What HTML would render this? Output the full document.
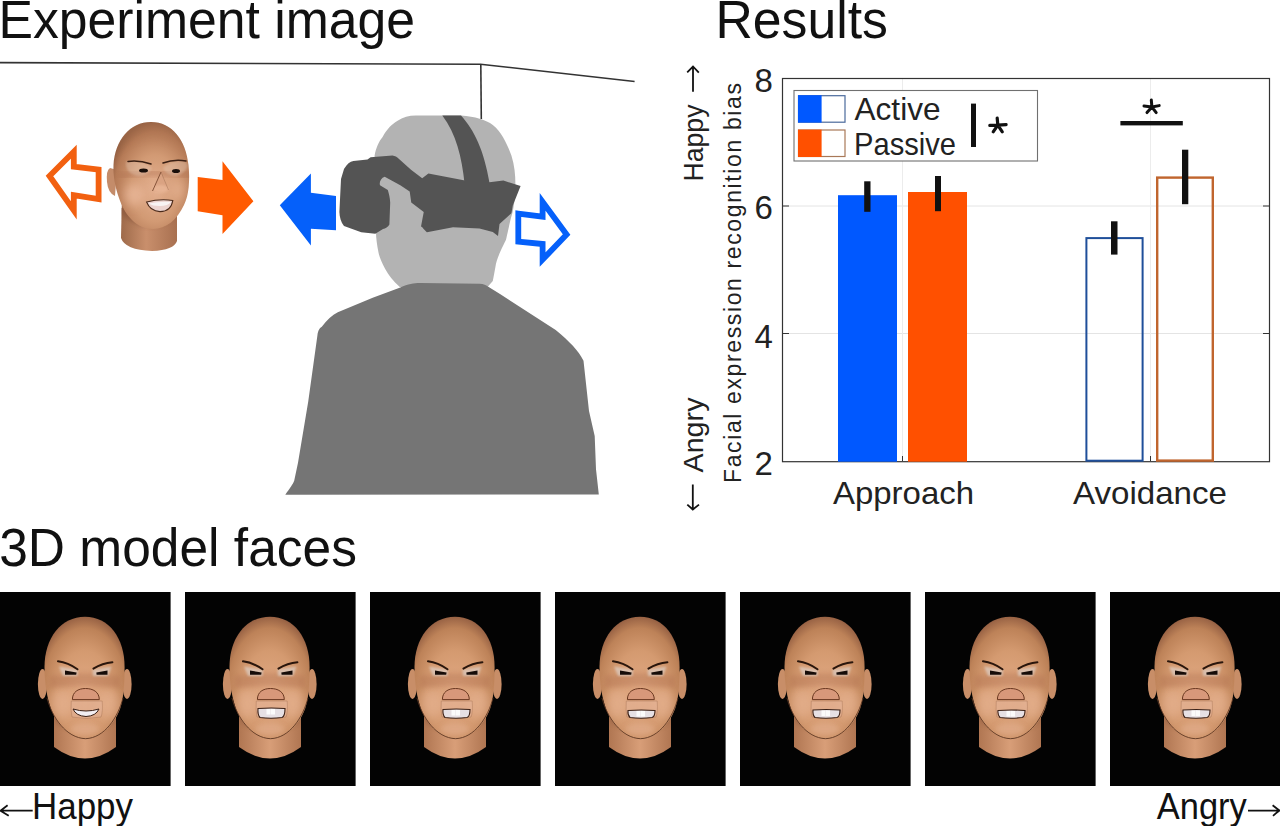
<!DOCTYPE html>
<html><head><meta charset="utf-8">
<style>
html,body{margin:0;padding:0;background:#fff;}
body{width:1280px;height:826px;overflow:hidden;position:relative;}
svg{position:absolute;left:0;top:0;}
text{font-family:"Liberation Sans",sans-serif;}
</style></head><body>
<svg width="1280" height="826" viewBox="0 0 1280 826">
<defs>
<radialGradient id="skin" cx="0.5" cy="0.62" r="0.62">
<stop offset="0" stop-color="#e2aa84"/><stop offset="0.55" stop-color="#d49a70"/><stop offset="0.85" stop-color="#bd8258"/><stop offset="1" stop-color="#986244"/>
</radialGradient>
<clipPath id="hc"><path d="M85,24.7 C109,24.7 124.6,46 124.6,75 C124.6,94 123.5,106 120,117 C113,135 100,146.7 85.5,146.7 C71,146.7 58,135 51,117 C47.5,106 44.5,94 44.5,75 C44.5,46 61,24.7 85,24.7 Z"/></clipPath>
<clipPath id="nc"><path d="M54,112 L54,155 Q85,178 116,155 L116,112 Z"/></clipPath>
<filter id="bl1" x="-50%" y="-50%" width="200%" height="200%"><feGaussianBlur stdDeviation="0.8"/></filter>
<filter id="bl2" x="-50%" y="-50%" width="200%" height="200%"><feGaussianBlur stdDeviation="2.5"/></filter>
<filter id="bl3" x="-50%" y="-50%" width="200%" height="200%"><feGaussianBlur stdDeviation="5"/></filter>
<linearGradient id="neck" x1="0" y1="0" x2="1" y2="0">
<stop offset="0" stop-color="#b07652"/><stop offset="0.5" stop-color="#d89e78"/><stop offset="1" stop-color="#b07652"/>
</linearGradient>
</defs>
<rect width="1280" height="826" fill="#fff"/>
<!-- titles -->
<text x="-1.5" y="37.5" font-size="51.7" fill="#111" transform="translate(0,37.5) scale(1,1.04) translate(0,-37.5)">Experiment image</text>
<text x="715.5" y="37.5" font-size="51.7" fill="#111" transform="translate(0,37.5) scale(1,1.04) translate(0,-37.5)">Results</text>
<text x="-0.8" y="566.4" font-size="51.5" fill="#111" transform="translate(0,566.4) scale(1,1.035) translate(0,-566.4)">3D model faces</text>
<text x="32" y="818.6" font-size="36" fill="#111" textLength="101" lengthAdjust="spacingAndGlyphs">Happy</text>
<text x="1156.8" y="818.6" font-size="36" fill="#111" textLength="90" lengthAdjust="spacingAndGlyphs">Angry</text>
<path d="M0.5,810.7 L32.7,810.7 M7.6,805.3 Q3,808.8 0.5,810.7 Q4,812.8 8.7,815.8" fill="none" stroke="#111" stroke-width="1.8"/>
<path d="M1248,810.6 L1279.5,810.6 M1272.6,805.2 Q1277,808.6 1279.5,810.6 Q1276.5,812.8 1273,815.9" fill="none" stroke="#111" stroke-width="1.8"/>
<!-- room lines -->
<path d="M0,62.6 L480.5,64.2 L634.6,81.5" fill="none" stroke="#333" stroke-width="1.6"/>
<path d="M480.8,64.2 L481.3,119" fill="none" stroke="#333" stroke-width="1.6"/>

<!-- head -->
<path d="M415.8,115.4 L461,115.6 C475,116.5 486,120 492.8,124.9 C502,132 508,146 511.4,155.5 C514.5,165 515.4,175 515.4,184 C515.4,200 513,212 510.8,218.6 C508.5,228 507,236 506,239.8 C504,244 502,248 500.8,250.5 C498,257 496,262 495.5,266.4 C494.5,272 493.5,277 492.8,281 L487.5,287 L399.8,287 C393,281 388.5,275 385.2,269 C381.5,262 379.5,257 378.6,253.1 C377,245 376,238 376,231.9 L374.6,155.5 C376,148 379,141 382.6,136.9 C387,129 392,124 397.2,121 C403,117 409,115.4 415.8,115.4 Z" fill="#b3b3b3"/>
<!-- goggles -->
<path d="M344,168.9 C347,164 350,161.5 353.4,161 L367.5,159.5 L370.6,157.2 L392.5,155.6 C395,156 397,157 398.75,158.75 L411,169.7 L422.2,178.3 L428.4,173.6 L465,180.5 L489.4,182.2 L503.4,180.6 L520.6,186 L512.8,205.6 L511.4,213.3 L499.5,224 L498,235.9 L492.8,231.9 L479.5,228.6 L453,227.2 L426.9,232.2 C424,230 422.5,227 421,226.6 L423.75,211.9 L411.25,202.5 L409.7,191.6 L400.3,185.3 L384.7,176.7 C381,178 379,182 380,185.3 L387.8,190 C389,194 390,198 390.2,202.5 L389.4,224.4 C388,227 385.5,228.5 383,229 L375.3,233.75 L361.25,232.2 L344,226 C341,222 339.5,217 339.4,211.9 L341,179 Z" fill="#545454"/>
<path d="M442.3,115.4 L461,115.6 C474,130 484,150 489.5,183 L464.5,183 C462,158 456,133 442.3,115.4 Z" fill="#545454"/>
<!-- body -->
<path d="M400.3,287.6 C408,284 414,283 419.8,283 L479.5,283.7 C484,284 486,285 487.5,286.3 L500,294 L555.7,330 C570,342 578,350 583.5,360.7 L589,410.9 L594.7,435.9 L596,469.3 L598.8,494.5 L285.3,494.7 C290,488 293,484 294.2,480.7 L298,462.8 L308.2,401.8 L317.4,335.6 C318,330 320,328 321.8,326.8 C327,320 332,315 337.8,312.3 L372.7,297.8 Z" fill="#757575"/>
<!-- arrows -->
<polygon points="279.8,205.2 310.9,173.6 310.9,192.7 336,196 336,230.3 310.9,228.7 310.9,245.6" fill="#0560fa"/>
<polygon points="518.3,213.6 542.6,216.6 542.6,201.8 566.6,234.6 542.6,259.6 542.6,244 518.3,241.6" fill="none" stroke="#0560fa" stroke-width="5.8" stroke-linejoin="miter"/>
<polygon points="197.7,177.1 222.5,180.1 222.5,161.3 253.4,201.3 222.5,234 222.5,215.2 197.7,211.3" fill="#ff5a00"/>
<polygon points="49.5,176 73.8,151.8 73.8,166.7 98.6,169.6 98.6,199.2 73.8,195.2 73.8,210.4" fill="none" stroke="#f26010" stroke-width="5.8" stroke-linejoin="miter"/>

<!-- small face -->
<g id="expface">
<radialGradient id="skin2" cx="0.55" cy="0.62" r="0.62">
<stop offset="0" stop-color="#e4b090"/><stop offset="0.5" stop-color="#d29a74"/><stop offset="0.85" stop-color="#b57a56"/><stop offset="1" stop-color="#946042"/>
</radialGradient>
<linearGradient id="neck2" x1="0" y1="0" x2="1" y2="0">
<stop offset="0" stop-color="#9e6a4a"/><stop offset="0.45" stop-color="#c98f6c"/><stop offset="1" stop-color="#a87050"/>
</linearGradient>
<clipPath id="hc2"><path d="M151,121.9 C172,121.9 186,140 188.5,165 C190,180 189,195 184,205 C177,220 166,229 153,229 C137,229 125,216 119,198 C115,187 113,175 113.5,165 C115,140 130,121.9 151,121.9 Z"/></clipPath>
<path d="M122,195 L121,238 Q125,250 152,251 Q174,250 177,241 L177,195 Z" fill="url(#neck2)"/>
<clipPath id="nc2"><path d="M121,208 L121,238 Q125,250 152,251 Q174,250 177,241 L177,208 Z"/></clipPath><g clip-path="url(#nc2)"><path d="M121,214 Q150,238 177,214 L177,200 L121,200 Z" fill="#7a4a30" opacity="0.5" filter="url(#bl2)"/></g>
<path d="M110,168 Q106,170 107,182 Q108,193 115,196 L117,170 Z" fill="#c48c6a"/>
<path d="M151,121.9 C172,121.9 186,140 188.5,165 C190,180 189,195 184,205 C177,220 166,229 153,229 C137,229 125,216 119,198 C115,187 113,175 113.5,165 C115,140 130,121.9 151,121.9 Z" fill="url(#skin2)"/>
<g clip-path="url(#hc2)">
<path d="M112,150 Q150,120 190,150 L190,120 L112,120 Z" fill="#a87050" opacity="0.35" filter="url(#bl3)"/>
<ellipse cx="134" cy="195" rx="10" ry="11" fill="#f0c0a4" opacity="0.6" filter="url(#bl3)"/>
<ellipse cx="178" cy="190" rx="8" ry="11" fill="#eab89a" opacity="0.5" filter="url(#bl3)"/>
<path d="M120,176 Q150,170 190,176" fill="none" stroke="#a8684a" stroke-width="6" opacity="0.35" filter="url(#bl2)"/>
<path d="M126,162 Q140,158 152,168 Q148,176 138,176 Q128,174 126,166 Z" fill="#e8d0c0" opacity="0.35" filter="url(#bl1)"/>
<path d="M186,162 Q174,158 163,168 Q167,176 176,176 Q184,174 188,166 Z" fill="#e8d0c0" opacity="0.35" filter="url(#bl1)"/>
</g>
<path d="M128,161.5 Q139,160 151,164" fill="none" stroke="#3a2014" stroke-width="1.5" stroke-linecap="round"/>
<path d="M163,163 Q174,159 186,161" fill="none" stroke="#3a2014" stroke-width="1.5" stroke-linecap="round"/>
<ellipse cx="143.5" cy="170.5" rx="4.5" ry="2" fill="#1a0f0a"/>
<ellipse cx="176" cy="171" rx="4" ry="2" fill="#1a0f0a"/>
<path d="M161,172 L152.5,191 Q160,193.5 168,191 Z" fill="#d9a282" opacity="0.9"/>
<ellipse cx="160.5" cy="189" rx="8" ry="4" fill="#eab898" opacity="0.8" filter="url(#bl1)"/>
<path d="M161,172 L152.5,191" fill="none" stroke="#7a4a30" stroke-width="0.9"/>
<path d="M161,172 L168.5,190" fill="none" stroke="#8a5a40" stroke-width="0.6" opacity="0.6"/>
<path d="M146.6,202 Q160,198.5 172.8,200.5 Q171,211.6 160,211.6 Q150,211 146.6,202 Z" fill="#ecd4d0" stroke="#4a2a1a" stroke-width="1.1"/>
<path d="M149,203.5 Q160,201 171,202 Q168,206 160,206 Q152,206 149,203.5 Z" fill="#f8f4f4"/>
</g>

<!-- chart -->
<g id="chart">
<line x1="783" y1="206" x2="1269" y2="206" stroke="#e4e4e4" stroke-width="1"/>
<line x1="783" y1="333.5" x2="1269" y2="333.5" stroke="#e4e4e4" stroke-width="1"/>
<line x1="902.5" y1="79" x2="902.5" y2="461" stroke="#ececec" stroke-width="1"/>
<line x1="1150.5" y1="79" x2="1150.5" y2="461" stroke="#ececec" stroke-width="1"/>
<rect x="782.5" y="78.5" width="487" height="383.2" fill="none" stroke="#333" stroke-width="1.2"/>
<path d="M783,206 h6 M783,333.5 h6 M1269,206 h-6 M1269,333.5 h-6 M902.5,461 v-5 M1150.5,461 v-5" stroke="#333" stroke-width="1"/>
<rect x="838" y="195.2" width="59" height="266.5" fill="#0058ff"/>
<rect x="908" y="192" width="59" height="269.7" fill="#ff5000"/>
<rect x="1086.4" y="238.1" width="56.2" height="222.6" fill="none" stroke="#1f4f9a" stroke-width="2"/>
<rect x="1157.2" y="177.6" width="55.6" height="283" fill="none" stroke="#c0652e" stroke-width="2.4"/>
<rect x="864.2" y="181.3" width="6.3" height="30.5" fill="#111"/>
<rect x="935" y="176" width="6" height="35.2" fill="#111"/>
<rect x="1111" y="221.3" width="6.5" height="33.3" fill="#111"/>
<rect x="1182" y="149.7" width="6.3" height="54.5" fill="#111"/>
<rect x="1120.4" y="121" width="62.4" height="4.4" fill="#111"/>
<path d="M1151.3,100 L1151.9,107 M1144,106 L1151.9,107 L1159.2,105.6 M1147,112.6 L1151.9,107 L1156.2,112.6" fill="none" stroke="#111" stroke-width="3" stroke-linecap="round" stroke-linejoin="round"/>
<!-- legend -->
<rect x="794" y="90.5" width="243.5" height="70.5" fill="#fff" stroke="#707070" stroke-width="1.1"/>
<rect x="798.5" y="95.7" width="46.5" height="26.5" fill="#fff" stroke="#4a6a9c" stroke-width="1.2"/>
<rect x="798" y="95.2" width="23.6" height="27.4" fill="#0058ff"/>
<rect x="798.5" y="130" width="46.5" height="26.5" fill="#fff" stroke="#a87858" stroke-width="1.2"/>
<rect x="798" y="129.6" width="23.6" height="27.4" fill="#ff5000"/>
<text x="854.5" y="120" font-size="32" fill="#222" textLength="86" lengthAdjust="spacingAndGlyphs">Active</text>
<text x="854" y="155" font-size="32" fill="#222" textLength="102" lengthAdjust="spacingAndGlyphs">Passive</text>
<rect x="971" y="103.6" width="5" height="43.4" fill="#111"/>
<path d="M997.2,118.2 L997.8,125.2 M989.8,125.4 L997.8,125.2 L1006.1,124.6 M993.2,131.8 L997.8,125.2 L1002.3,131.8" fill="none" stroke="#111" stroke-width="3.2" stroke-linecap="round" stroke-linejoin="round"/>
<!-- tick labels -->
<text x="763.8" y="92" font-size="33" fill="#222" text-anchor="middle">8</text>
<text x="763.8" y="218.8" font-size="33" fill="#222" text-anchor="middle">6</text>
<text x="763.8" y="348" font-size="33" fill="#222" text-anchor="middle">4</text>
<text x="763.8" y="474.5" font-size="33" fill="#222" text-anchor="middle">2</text>
<text x="833" y="503.8" font-size="32" fill="#222" textLength="141" lengthAdjust="spacingAndGlyphs">Approach</text>
<text x="1073" y="503.8" font-size="32" fill="#222" textLength="154" lengthAdjust="spacingAndGlyphs">Avoidance</text>
<!-- y labels -->
<text transform="translate(703,181.5) rotate(-90)" font-size="27" fill="#222" textLength="77" lengthAdjust="spacingAndGlyphs">Happy</text>
<path d="M693,91.7 L693,66.5 M687.2,72.3 L693,66.5 L698.8,72.6" fill="none" stroke="#111" stroke-width="1.8"/>
<text transform="translate(703,472.5) rotate(-90)" font-size="27" fill="#222" textLength="75" lengthAdjust="spacingAndGlyphs">Angry</text>
<path d="M692.8,484.4 L692.8,509.5 M687.3,504.6 L692.8,509.5 L699,504.6" fill="none" stroke="#111" stroke-width="1.8"/>
<text transform="translate(741,483) rotate(-90)" font-size="23" fill="#222" textLength="400" lengthAdjust="spacing">Facial expression recognition bias</text>
</g>

<!-- face panels -->
<rect x="0" y="592" width="170.6" height="194" fill="#030303"/><g transform="translate(0,592)"><path d="M54,112 L54,155 Q85,178 116,155 L116,112 Z" fill="url(#neck)"/><g clip-path="url(#nc)"><path d="M56,130 Q85,150 114,130 L114,110 L56,110 Z" fill="#7a4a30" opacity="0.45" filter="url(#bl2)"/></g><ellipse cx="42.5" cy="92" rx="4.6" ry="15" fill="#c88e68"/><ellipse cx="127" cy="92" rx="4.6" ry="15" fill="#c88e68"/><path d="M85,24.7 C109,24.7 124.6,46 124.6,75 C124.6,94 123.5,106 120,117 C113,135 100,146.7 85.5,146.7 C71,146.7 58,135 51,117 C47.5,106 44.5,94 44.5,75 C44.5,46 61,24.7 85,24.7 Z" fill="url(#skin)"/><g clip-path="url(#hc)"><ellipse cx="62" cy="112" rx="11" ry="14" fill="#e9b798" opacity="0.55" filter="url(#bl3)"/><ellipse cx="108" cy="112" rx="11" ry="14" fill="#e9b798" opacity="0.55" filter="url(#bl3)"/><path d="M50,84 Q85,78 120,84 L120,96 Q85,92 50,96 Z" fill="#a8684a" opacity="0.35" filter="url(#bl2)"/><ellipse cx="85" cy="137" rx="14" ry="6" fill="#e2ae8e" opacity="0.6" filter="url(#bl2)"/></g><path d="M47,106 C52,125 66,146 85.5,146.7 C105,146 118,125 123,106" fill="none" stroke="#5e3824" stroke-width="0.9"/><path d="M59,74.5 L78,77.5 L77.5,84 L63,84 Z" fill="#dccfc6" opacity="0.7" filter="url(#bl1)"/><path d="M111.5,74.5 L92.5,77.5 L93,84 L108,84 Z" fill="#dccfc6" opacity="0.7" filter="url(#bl1)"/><path d="M58,69.3 Q68,70.5 77.5,77.3" fill="none" stroke="#2a160c" stroke-width="2" stroke-linecap="round"/><path d="M112.4,70.3 Q102.5,71 93.4,76.6" fill="none" stroke="#2a160c" stroke-width="2" stroke-linecap="round"/><path d="M65,78.6 L76.6,80.4 L76.2,82.8 L65,82.8 Z" fill="#160c08"/><path d="M107.5,78.6 L96.3,80.4 L96.6,82.8 L107.5,82.8 Z" fill="#160c08"/><path d="M72.4,107.6 C72.4,100 78,96.5 85.5,96.5 C93,96.5 99.3,100 99.3,107.6 Z" fill="#d8987a" stroke="#6a3820" stroke-width="1"/><path d="M71.3,109 L102.2,109 Q103,120 101,125 Q86,128 72,125 Q70.5,118 71.3,109 Z" fill="#e6b69c" opacity="0.5" stroke="#6a3a24" stroke-width="0.6" stroke-opacity="0.7"/><path d="M73,117 Q86,121 99,117 Q96,124 86,124.5 Q76,124 73,117 Z" fill="#f2eef2" stroke="#3a2016" stroke-width="1"/></g><rect x="185" y="592" width="170.6" height="194" fill="#030303"/><g transform="translate(185,592)"><path d="M54,112 L54,155 Q85,178 116,155 L116,112 Z" fill="url(#neck)"/><g clip-path="url(#nc)"><path d="M56,130 Q85,150 114,130 L114,110 L56,110 Z" fill="#7a4a30" opacity="0.45" filter="url(#bl2)"/></g><ellipse cx="42.5" cy="92" rx="4.6" ry="15" fill="#c88e68"/><ellipse cx="127" cy="92" rx="4.6" ry="15" fill="#c88e68"/><path d="M85,24.7 C109,24.7 124.6,46 124.6,75 C124.6,94 123.5,106 120,117 C113,135 100,146.7 85.5,146.7 C71,146.7 58,135 51,117 C47.5,106 44.5,94 44.5,75 C44.5,46 61,24.7 85,24.7 Z" fill="url(#skin)"/><g clip-path="url(#hc)"><ellipse cx="62" cy="112" rx="11" ry="14" fill="#e9b798" opacity="0.55" filter="url(#bl3)"/><ellipse cx="108" cy="112" rx="11" ry="14" fill="#e9b798" opacity="0.55" filter="url(#bl3)"/><path d="M50,84 Q85,78 120,84 L120,96 Q85,92 50,96 Z" fill="#a8684a" opacity="0.35" filter="url(#bl2)"/><ellipse cx="85" cy="137" rx="14" ry="6" fill="#e2ae8e" opacity="0.6" filter="url(#bl2)"/></g><path d="M47,106 C52,125 66,146 85.5,146.7 C105,146 118,125 123,106" fill="none" stroke="#5e3824" stroke-width="0.9"/><path d="M59,74.5 L78,77.5 L77.5,84 L63,84 Z" fill="#dccfc6" opacity="0.7" filter="url(#bl1)"/><path d="M111.5,74.5 L92.5,77.5 L93,84 L108,84 Z" fill="#dccfc6" opacity="0.7" filter="url(#bl1)"/><path d="M58,69.3 Q68,70.5 77.5,77.3" fill="none" stroke="#2a160c" stroke-width="2" stroke-linecap="round"/><path d="M112.4,70.3 Q102.5,71 93.4,76.6" fill="none" stroke="#2a160c" stroke-width="2" stroke-linecap="round"/><path d="M65,78.6 L76.6,80.4 L76.2,82.8 L65,82.8 Z" fill="#160c08"/><path d="M107.5,78.6 L96.3,80.4 L96.6,82.8 L107.5,82.8 Z" fill="#160c08"/><path d="M72.4,107.6 C72.4,100 78,96.5 85.5,96.5 C93,96.5 99.3,100 99.3,107.6 Z" fill="#d8987a" stroke="#6a3820" stroke-width="1"/><path d="M71.3,109 L102.2,109 Q103,120 101,125 Q86,128 72,125 Q70.5,118 71.3,109 Z" fill="#e6b69c" opacity="0.5" stroke="#6a3a24" stroke-width="0.6" stroke-opacity="0.7"/><path d="M73,116.5 Q86,115.5 100,116.5 Q100,124.5 97,125.5 Q86,127 75,125.5 Q72.5,123 73,116.5 Z" fill="#e6e0e4" stroke="#3a2016" stroke-width="1.1"/><rect x="81.5" y="117.0" width="4" height="5.5" fill="#fbfbfb"/><rect x="86" y="117.0" width="4" height="5.5" fill="#fbfbfb"/></g><rect x="370" y="592" width="170.6" height="194" fill="#030303"/><g transform="translate(370,592)"><path d="M54,112 L54,155 Q85,178 116,155 L116,112 Z" fill="url(#neck)"/><g clip-path="url(#nc)"><path d="M56,130 Q85,150 114,130 L114,110 L56,110 Z" fill="#7a4a30" opacity="0.45" filter="url(#bl2)"/></g><ellipse cx="42.5" cy="92" rx="4.6" ry="15" fill="#c88e68"/><ellipse cx="127" cy="92" rx="4.6" ry="15" fill="#c88e68"/><path d="M85,24.7 C109,24.7 124.6,46 124.6,75 C124.6,94 123.5,106 120,117 C113,135 100,146.7 85.5,146.7 C71,146.7 58,135 51,117 C47.5,106 44.5,94 44.5,75 C44.5,46 61,24.7 85,24.7 Z" fill="url(#skin)"/><g clip-path="url(#hc)"><ellipse cx="62" cy="112" rx="11" ry="14" fill="#e9b798" opacity="0.55" filter="url(#bl3)"/><ellipse cx="108" cy="112" rx="11" ry="14" fill="#e9b798" opacity="0.55" filter="url(#bl3)"/><path d="M50,84 Q85,78 120,84 L120,96 Q85,92 50,96 Z" fill="#a8684a" opacity="0.35" filter="url(#bl2)"/><ellipse cx="85" cy="137" rx="14" ry="6" fill="#e2ae8e" opacity="0.6" filter="url(#bl2)"/></g><path d="M47,106 C52,125 66,146 85.5,146.7 C105,146 118,125 123,106" fill="none" stroke="#5e3824" stroke-width="0.9"/><path d="M59,74.5 L78,77.5 L77.5,84 L63,84 Z" fill="#dccfc6" opacity="0.7" filter="url(#bl1)"/><path d="M111.5,74.5 L92.5,77.5 L93,84 L108,84 Z" fill="#dccfc6" opacity="0.7" filter="url(#bl1)"/><path d="M58,69.3 Q68,70.5 77.5,77.3" fill="none" stroke="#2a160c" stroke-width="2" stroke-linecap="round"/><path d="M112.4,70.3 Q102.5,71 93.4,76.6" fill="none" stroke="#2a160c" stroke-width="2" stroke-linecap="round"/><path d="M65,78.6 L76.6,80.4 L76.2,82.8 L65,82.8 Z" fill="#160c08"/><path d="M107.5,78.6 L96.3,80.4 L96.6,82.8 L107.5,82.8 Z" fill="#160c08"/><path d="M72.4,107.6 C72.4,100 78,96.5 85.5,96.5 C93,96.5 99.3,100 99.3,107.6 Z" fill="#d8987a" stroke="#6a3820" stroke-width="1"/><path d="M71.3,109 L102.2,109 Q103,120 101,125 Q86,128 72,125 Q70.5,118 71.3,109 Z" fill="#e6b69c" opacity="0.5" stroke="#6a3a24" stroke-width="0.6" stroke-opacity="0.7"/><path d="M73,117.5 Q86,116.5 100,117.5 Q100,124.5 97,125.5 Q86,127 75,125.5 Q72.5,123 73,117.5 Z" fill="#e6e0e4" stroke="#3a2016" stroke-width="1.1"/><rect x="81.5" y="118.0" width="4" height="5.5" fill="#fbfbfb"/><rect x="86" y="118.0" width="4" height="5.5" fill="#fbfbfb"/></g><rect x="555" y="592" width="170.6" height="194" fill="#030303"/><g transform="translate(555,592)"><path d="M54,112 L54,155 Q85,178 116,155 L116,112 Z" fill="url(#neck)"/><g clip-path="url(#nc)"><path d="M56,130 Q85,150 114,130 L114,110 L56,110 Z" fill="#7a4a30" opacity="0.45" filter="url(#bl2)"/></g><ellipse cx="42.5" cy="92" rx="4.6" ry="15" fill="#c88e68"/><ellipse cx="127" cy="92" rx="4.6" ry="15" fill="#c88e68"/><path d="M85,24.7 C109,24.7 124.6,46 124.6,75 C124.6,94 123.5,106 120,117 C113,135 100,146.7 85.5,146.7 C71,146.7 58,135 51,117 C47.5,106 44.5,94 44.5,75 C44.5,46 61,24.7 85,24.7 Z" fill="url(#skin)"/><g clip-path="url(#hc)"><ellipse cx="62" cy="112" rx="11" ry="14" fill="#e9b798" opacity="0.55" filter="url(#bl3)"/><ellipse cx="108" cy="112" rx="11" ry="14" fill="#e9b798" opacity="0.55" filter="url(#bl3)"/><path d="M50,84 Q85,78 120,84 L120,96 Q85,92 50,96 Z" fill="#a8684a" opacity="0.35" filter="url(#bl2)"/><ellipse cx="85" cy="137" rx="14" ry="6" fill="#e2ae8e" opacity="0.6" filter="url(#bl2)"/></g><path d="M47,106 C52,125 66,146 85.5,146.7 C105,146 118,125 123,106" fill="none" stroke="#5e3824" stroke-width="0.9"/><path d="M59,74.5 L78,77.5 L77.5,84 L63,84 Z" fill="#dccfc6" opacity="0.7" filter="url(#bl1)"/><path d="M111.5,74.5 L92.5,77.5 L93,84 L108,84 Z" fill="#dccfc6" opacity="0.7" filter="url(#bl1)"/><path d="M58,69.3 Q68,70.5 77.5,77.3" fill="none" stroke="#2a160c" stroke-width="2" stroke-linecap="round"/><path d="M112.4,70.3 Q102.5,71 93.4,76.6" fill="none" stroke="#2a160c" stroke-width="2" stroke-linecap="round"/><path d="M65,78.6 L76.6,80.4 L76.2,82.8 L65,82.8 Z" fill="#160c08"/><path d="M107.5,78.6 L96.3,80.4 L96.6,82.8 L107.5,82.8 Z" fill="#160c08"/><path d="M72.4,107.6 C72.4,100 78,96.5 85.5,96.5 C93,96.5 99.3,100 99.3,107.6 Z" fill="#d8987a" stroke="#6a3820" stroke-width="1"/><path d="M71.3,109 L102.2,109 Q103,120 101,125 Q86,128 72,125 Q70.5,118 71.3,109 Z" fill="#e6b69c" opacity="0.5" stroke="#6a3a24" stroke-width="0.6" stroke-opacity="0.7"/><path d="M73,118.5 Q86,117.5 100,118.5 Q100,124.5 97,125.5 Q86,127 75,125.5 Q72.5,123 73,118.5 Z" fill="#e6e0e4" stroke="#3a2016" stroke-width="1.1"/><rect x="81.5" y="119.0" width="4" height="5.5" fill="#fbfbfb"/><rect x="86" y="119.0" width="4" height="5.5" fill="#fbfbfb"/></g><rect x="740" y="592" width="170.6" height="194" fill="#030303"/><g transform="translate(740,592)"><path d="M54,112 L54,155 Q85,178 116,155 L116,112 Z" fill="url(#neck)"/><g clip-path="url(#nc)"><path d="M56,130 Q85,150 114,130 L114,110 L56,110 Z" fill="#7a4a30" opacity="0.45" filter="url(#bl2)"/></g><ellipse cx="42.5" cy="92" rx="4.6" ry="15" fill="#c88e68"/><ellipse cx="127" cy="92" rx="4.6" ry="15" fill="#c88e68"/><path d="M85,24.7 C109,24.7 124.6,46 124.6,75 C124.6,94 123.5,106 120,117 C113,135 100,146.7 85.5,146.7 C71,146.7 58,135 51,117 C47.5,106 44.5,94 44.5,75 C44.5,46 61,24.7 85,24.7 Z" fill="url(#skin)"/><g clip-path="url(#hc)"><ellipse cx="62" cy="112" rx="11" ry="14" fill="#e9b798" opacity="0.55" filter="url(#bl3)"/><ellipse cx="108" cy="112" rx="11" ry="14" fill="#e9b798" opacity="0.55" filter="url(#bl3)"/><path d="M50,84 Q85,78 120,84 L120,96 Q85,92 50,96 Z" fill="#a8684a" opacity="0.35" filter="url(#bl2)"/><ellipse cx="85" cy="137" rx="14" ry="6" fill="#e2ae8e" opacity="0.6" filter="url(#bl2)"/></g><path d="M47,106 C52,125 66,146 85.5,146.7 C105,146 118,125 123,106" fill="none" stroke="#5e3824" stroke-width="0.9"/><path d="M59,74.5 L78,77.5 L77.5,84 L63,84 Z" fill="#dccfc6" opacity="0.7" filter="url(#bl1)"/><path d="M111.5,74.5 L92.5,77.5 L93,84 L108,84 Z" fill="#dccfc6" opacity="0.7" filter="url(#bl1)"/><path d="M58,69.3 Q68,70.5 77.5,77.3" fill="none" stroke="#2a160c" stroke-width="2" stroke-linecap="round"/><path d="M112.4,70.3 Q102.5,71 93.4,76.6" fill="none" stroke="#2a160c" stroke-width="2" stroke-linecap="round"/><path d="M65,78.6 L76.6,80.4 L76.2,82.8 L65,82.8 Z" fill="#160c08"/><path d="M107.5,78.6 L96.3,80.4 L96.6,82.8 L107.5,82.8 Z" fill="#160c08"/><path d="M72.4,107.6 C72.4,100 78,96.5 85.5,96.5 C93,96.5 99.3,100 99.3,107.6 Z" fill="#d8987a" stroke="#6a3820" stroke-width="1"/><path d="M71.3,109 L102.2,109 Q103,120 101,125 Q86,128 72,125 Q70.5,118 71.3,109 Z" fill="#e6b69c" opacity="0.5" stroke="#6a3a24" stroke-width="0.6" stroke-opacity="0.7"/><path d="M73,118 Q86,117 100,118 Q100,124.5 97,125.5 Q86,127 75,125.5 Q72.5,123 73,118 Z" fill="#e6e0e4" stroke="#3a2016" stroke-width="1.1"/><rect x="81.5" y="118.5" width="4" height="5.5" fill="#fbfbfb"/><rect x="86" y="118.5" width="4" height="5.5" fill="#fbfbfb"/></g><rect x="925" y="592" width="170.6" height="194" fill="#030303"/><g transform="translate(925,592)"><path d="M54,112 L54,155 Q85,178 116,155 L116,112 Z" fill="url(#neck)"/><g clip-path="url(#nc)"><path d="M56,130 Q85,150 114,130 L114,110 L56,110 Z" fill="#7a4a30" opacity="0.45" filter="url(#bl2)"/></g><ellipse cx="42.5" cy="92" rx="4.6" ry="15" fill="#c88e68"/><ellipse cx="127" cy="92" rx="4.6" ry="15" fill="#c88e68"/><path d="M85,24.7 C109,24.7 124.6,46 124.6,75 C124.6,94 123.5,106 120,117 C113,135 100,146.7 85.5,146.7 C71,146.7 58,135 51,117 C47.5,106 44.5,94 44.5,75 C44.5,46 61,24.7 85,24.7 Z" fill="url(#skin)"/><g clip-path="url(#hc)"><ellipse cx="62" cy="112" rx="11" ry="14" fill="#e9b798" opacity="0.55" filter="url(#bl3)"/><ellipse cx="108" cy="112" rx="11" ry="14" fill="#e9b798" opacity="0.55" filter="url(#bl3)"/><path d="M50,84 Q85,78 120,84 L120,96 Q85,92 50,96 Z" fill="#a8684a" opacity="0.35" filter="url(#bl2)"/><ellipse cx="85" cy="137" rx="14" ry="6" fill="#e2ae8e" opacity="0.6" filter="url(#bl2)"/></g><path d="M47,106 C52,125 66,146 85.5,146.7 C105,146 118,125 123,106" fill="none" stroke="#5e3824" stroke-width="0.9"/><path d="M59,74.5 L78,77.5 L77.5,84 L63,84 Z" fill="#dccfc6" opacity="0.7" filter="url(#bl1)"/><path d="M111.5,74.5 L92.5,77.5 L93,84 L108,84 Z" fill="#dccfc6" opacity="0.7" filter="url(#bl1)"/><path d="M58,69.3 Q68,70.5 77.5,77.3" fill="none" stroke="#2a160c" stroke-width="2" stroke-linecap="round"/><path d="M112.4,70.3 Q102.5,71 93.4,76.6" fill="none" stroke="#2a160c" stroke-width="2" stroke-linecap="round"/><path d="M65,78.6 L76.6,80.4 L76.2,82.8 L65,82.8 Z" fill="#160c08"/><path d="M107.5,78.6 L96.3,80.4 L96.6,82.8 L107.5,82.8 Z" fill="#160c08"/><path d="M72.4,107.6 C72.4,100 78,96.5 85.5,96.5 C93,96.5 99.3,100 99.3,107.6 Z" fill="#d8987a" stroke="#6a3820" stroke-width="1"/><path d="M71.3,109 L102.2,109 Q103,120 101,125 Q86,128 72,125 Q70.5,118 71.3,109 Z" fill="#e6b69c" opacity="0.5" stroke="#6a3a24" stroke-width="0.6" stroke-opacity="0.7"/><path d="M73,118.5 Q86,117.5 100,118.5 Q100,124.5 97,125.5 Q86,127 75,125.5 Q72.5,123 73,118.5 Z" fill="#e6e0e4" stroke="#3a2016" stroke-width="1.1"/><rect x="81.5" y="119.0" width="4" height="5.5" fill="#fbfbfb"/><rect x="86" y="119.0" width="4" height="5.5" fill="#fbfbfb"/></g><rect x="1110" y="592" width="170.6" height="194" fill="#030303"/><g transform="translate(1110,592)"><path d="M54,112 L54,155 Q85,178 116,155 L116,112 Z" fill="url(#neck)"/><g clip-path="url(#nc)"><path d="M56,130 Q85,150 114,130 L114,110 L56,110 Z" fill="#7a4a30" opacity="0.45" filter="url(#bl2)"/></g><ellipse cx="42.5" cy="92" rx="4.6" ry="15" fill="#c88e68"/><ellipse cx="127" cy="92" rx="4.6" ry="15" fill="#c88e68"/><path d="M85,24.7 C109,24.7 124.6,46 124.6,75 C124.6,94 123.5,106 120,117 C113,135 100,146.7 85.5,146.7 C71,146.7 58,135 51,117 C47.5,106 44.5,94 44.5,75 C44.5,46 61,24.7 85,24.7 Z" fill="url(#skin)"/><g clip-path="url(#hc)"><ellipse cx="62" cy="112" rx="11" ry="14" fill="#e9b798" opacity="0.55" filter="url(#bl3)"/><ellipse cx="108" cy="112" rx="11" ry="14" fill="#e9b798" opacity="0.55" filter="url(#bl3)"/><path d="M50,84 Q85,78 120,84 L120,96 Q85,92 50,96 Z" fill="#a8684a" opacity="0.35" filter="url(#bl2)"/><ellipse cx="85" cy="137" rx="14" ry="6" fill="#e2ae8e" opacity="0.6" filter="url(#bl2)"/></g><path d="M47,106 C52,125 66,146 85.5,146.7 C105,146 118,125 123,106" fill="none" stroke="#5e3824" stroke-width="0.9"/><path d="M59,74.5 L78,77.5 L77.5,84 L63,84 Z" fill="#dccfc6" opacity="0.7" filter="url(#bl1)"/><path d="M111.5,74.5 L92.5,77.5 L93,84 L108,84 Z" fill="#dccfc6" opacity="0.7" filter="url(#bl1)"/><path d="M58,69.3 Q68,70.5 77.5,77.3" fill="none" stroke="#2a160c" stroke-width="2" stroke-linecap="round"/><path d="M112.4,70.3 Q102.5,71 93.4,76.6" fill="none" stroke="#2a160c" stroke-width="2" stroke-linecap="round"/><path d="M65,78.6 L76.6,80.4 L76.2,82.8 L65,82.8 Z" fill="#160c08"/><path d="M107.5,78.6 L96.3,80.4 L96.6,82.8 L107.5,82.8 Z" fill="#160c08"/><path d="M72.4,107.6 C72.4,100 78,96.5 85.5,96.5 C93,96.5 99.3,100 99.3,107.6 Z" fill="#d8987a" stroke="#6a3820" stroke-width="1"/><path d="M71.3,109 L102.2,109 Q103,120 101,125 Q86,128 72,125 Q70.5,118 71.3,109 Z" fill="#e6b69c" opacity="0.5" stroke="#6a3a24" stroke-width="0.6" stroke-opacity="0.7"/><path d="M73,118 Q86,117 100,118 Q100,124.5 97,125.5 Q86,127 75,125.5 Q72.5,123 73,118 Z" fill="#e6e0e4" stroke="#3a2016" stroke-width="1.1"/><rect x="81.5" y="118.5" width="4" height="5.5" fill="#fbfbfb"/><rect x="86" y="118.5" width="4" height="5.5" fill="#fbfbfb"/></g>
</svg>
</body></html>
